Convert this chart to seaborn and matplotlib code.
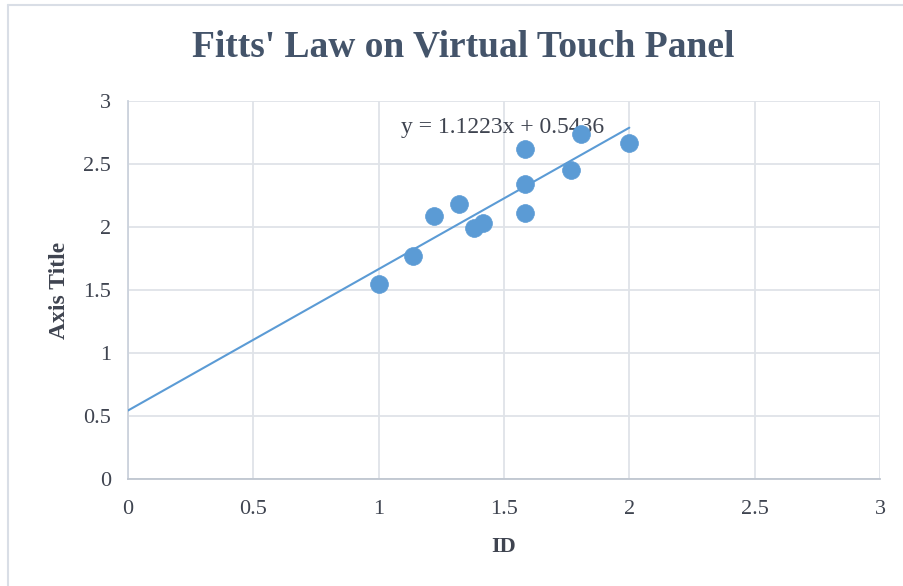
import numpy as np
import pandas as pd
import seaborn as sns
import matplotlib.pyplot as plt
from matplotlib.lines import Line2D

# data
ids = [1.0, 1.137, 1.222, 1.322, 1.379, 1.415, 1.585, 1.585, 1.585, 1.766, 1.807, 2.0]
times = [1.55, 1.77, 2.09, 2.18, 1.99, 2.03, 2.62, 2.34, 2.11, 2.45, 2.74, 2.67]
slope = 1.1223
intercept = 0.5436
trend_x = [0, 2]

df = pd.DataFrame({'ID': ids, 'time': times})
trend = pd.DataFrame({'x': trend_x, 'y': [slope * v + intercept for v in trend_x]})

sns.set_theme(style='white')
plt.rcParams['font.family'] = ['Liberation Serif', 'DejaVu Serif']

blue = '#5B9BD5'
grid = '#DFE3E8'
txt = '#3F4450'

fig = plt.figure(figsize=(9.04, 5.86), dpi=100)
ax = fig.add_axes([128 / 904, 1 - 479 / 586, 752 / 904, 378 / 586])

sns.lineplot(data=trend, x='x', y='y', ax=ax, color=blue, linewidth=1.5, zorder=3)
sns.scatterplot(data=df, x='ID', y='time', ax=ax, color=blue, s=165,
                edgecolor=blue, linewidth=0.5, zorder=4)

ax.set_xlim(0, 3)
ax.set_ylim(0, 3)
ax.set_xticks(np.arange(0, 3.01, 0.5))
ax.set_yticks(np.arange(0, 3.01, 0.5))
ax.set_xticklabels(['0', '0.5', '1', '1.5', '2', '2.5', '3'])
ax.set_yticklabels(['0', '0.5', '1', '1.5', '2', '2.5', '3'])
ax.grid(True, color=grid, linewidth=1.3)
ax.set_axisbelow(True)
for side in ['top', 'right']:
    ax.spines[side].set_visible(False)
ax.spines['left'].set_color('#CBD2DC')
ax.spines['left'].set_linewidth(1.3)
ax.spines['bottom'].set_color('#BFC6D0')
ax.spines['bottom'].set_linewidth(1.3)
ax.tick_params(axis='both', length=0, labelsize=16, colors=txt)
ax.tick_params(axis='x', pad=15)
ax.tick_params(axis='y', pad=12)

ax.set_xlabel('ID', fontsize=16, fontweight='bold', color=txt, labelpad=13)
ax.set_ylabel('Axis Title', fontsize=17, fontweight='bold', color=txt, labelpad=10)

ax.text(1.495, 2.79, f'y = {slope}x + {intercept}', fontsize=17, color=txt,
        ha='center', va='center')

fig.text(0.512, 1 - 47 / 586, "Fitts' Law on Virtual Touch Panel", ha='center', va='center',
         fontsize=27, fontweight='bold', color='#44546A')

# chart frame
fig.add_artist(Line2D([8 / 904, 8 / 904], [0, 1 - 5 / 586], transform=fig.transFigure,
                      color='#D9DEE6', linewidth=1.5))
fig.add_artist(Line2D([8 / 904, 1], [1 - 5 / 586, 1 - 5 / 586], transform=fig.transFigure,
                      color='#D9DEE6', linewidth=1.5))

fig.savefig('out.png', dpi=100)
